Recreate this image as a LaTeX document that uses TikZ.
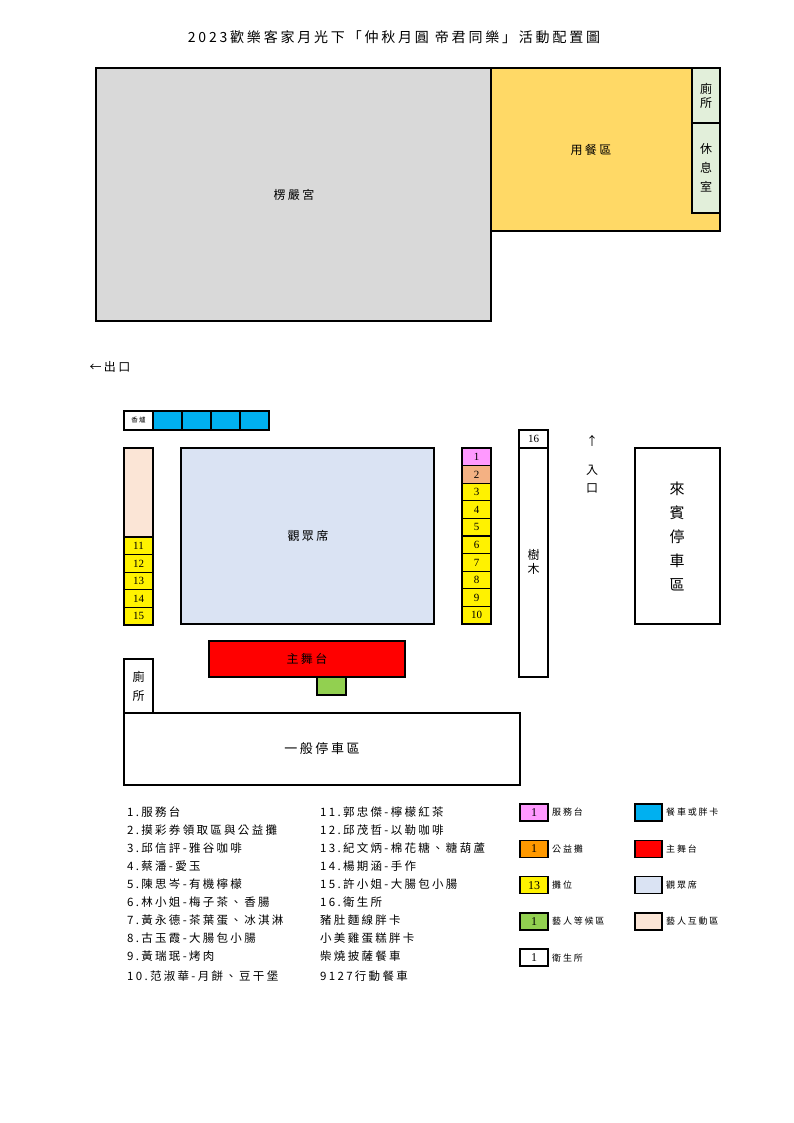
\documentclass[tikz,border=0pt]{standalone}
\usepackage{fontspec}
\setmainfont{Noto Sans CJK TC}[LetterSpace=20]
\newfontfamily\numf{Liberation Serif}
\begin{document}
\begin{tikzpicture}[x=1pt,y=-1pt,
  bx/.style={draw=black,line width=1.6pt},
  thin/.style={draw=black,line width=1.1pt},
  lab/.style={font=\fontsize{12}{14}\selectfont},
  sm/.style={font=\numf\fontsize{11}{12}\selectfont},
  lst/.style={anchor=west,font=\fontsize{11.5}{13}\selectfont,inner sep=0pt}]
\useasboundingbox[fill=white] (0,0) rectangle (794,1123);
\definecolor{grayA}{HTML}{D9D9D9}\definecolor{yelA}{HTML}{FFD966}
\definecolor{grnA}{HTML}{E2EFDA}\definecolor{blueA}{HTML}{00B0F0}
\definecolor{peachA}{HTML}{FBE5D6}\definecolor{audA}{HTML}{DAE3F3}
\definecolor{pinkA}{HTML}{FF99FF}\definecolor{salA}{HTML}{F4B183}
\definecolor{orgA}{HTML}{FF9900}\definecolor{grA}{HTML}{92D050}
\node[font=\fontsize{14}{16}\selectfont] (title) at (394,37) {2023歡樂客家月光下「仲秋月圓 帝君同樂」活動配置圖};
\draw[bx,fill=grayA] (96,68) rectangle (491,321);
\node[lab] (temple) at (294,195) {楞嚴宮};
\draw[bx,fill=yelA] (491,68) rectangle (720,231);
\node[lab] (dine) at (591,150) {用餐區};
\draw[thin,fill=grnA] (692,68) rectangle (720,123);
\node[lab,align=center] (wc1) at (706,96) {廁\\所};
\draw[thin,fill=grnA] (692,123) rectangle (720,213);
\node[lab,font=\fontsize{12}{19}\selectfont,align=center] (rest) at (706,168) {休\\息\\室};
\node[lab] (exit) at (110,367) {←出口};
\draw[thin,fill=white] (124,411) rectangle (153,430);
\node[font=\fontsize{6.5}{7}\selectfont] (burner) at (138.5,420.5) {香爐};
\foreach \i in {0,1,2,3}{\draw[thin,fill=blueA] (153+29*\i,411) rectangle (182+29*\i,430);}
\draw[thin,fill=peachA] (124,448) rectangle (153,537);
\foreach \n [count=\k from 0] in {11,12,13,14,15}{
  \draw[thin,fill=yellow] (124,537+17.6*\k) rectangle (153,554.6+17.6*\k);
  \node[sm] (s\n) at (138.5,545.8+17.6*\k) {\n};}
\draw[bx,fill=audA] (181,448) rectangle (434,624);
\node[lab] (aud) at (308,536) {觀眾席};
\foreach \n [count=\k from 0] in {1,...,10}{
  \ifnum\n=1 \def\c{pinkA}\else\ifnum\n=2 \def\c{salA}\else\def\c{yellow}\fi\fi
  \draw[thin,fill=\c] (462,448+17.6*\k) rectangle (491,465.6+17.6*\k);
  \node[sm] (s\n) at (476.5,456.8+17.6*\k) {\n};}
\draw[thin,fill=white] (519,430) rectangle (548,448);
\node[sm] (s16) at (533.5,439) {16};
\draw[bx,fill=white] (519,448) rectangle (548,677);
\node[lab,align=center] (tree) at (533.5,562) {樹\\木};
\node[lab] (up) at (592,441) {↑};
\node[lab,align=center] (ent) at (592,479) {入\\[4pt]口};
\draw[bx,fill=white] (635,448) rectangle (720,624);
\node[font=\fontsize{15}{24}\selectfont,align=center] (vip) at (677,536) {來\\賓\\停\\車\\區};
\draw[bx,fill=red] (209,641) rectangle (405,677);
\node[lab] (stage) at (307,659) {主舞台};
\draw[thin,fill=grA] (317,677) rectangle (346,695);
\draw[thin,fill=white] (124,659) rectangle (153,713);
\node[lab,font=\fontsize{12}{19}\selectfont,align=center] (wc2) at (138.5,686) {廁\\所};
\draw[thin,fill=white] (124,713) rectangle (520,785);
\node[lab,font=\fontsize{13}{15}\selectfont] (park) at (322,749) {一般停車區};
\foreach \t [count=\k from 0] in {1.服務台,2.摸彩券領取區與公益攤,3.邱信評-雅谷咖啡,4.蔡潘-愛玉,5.陳思岑-有機檸檬,6.林小姐-梅子茶、香腸,7.黃永德-茶葉蛋、冰淇淋,8.古玉霞-大腸包小腸,9.黃瑞珉-烤肉}
  {\node[lst] at (127,812+18*\k) {\t};}
\node[lst] at (127,976) {10.范淑華-月餅、豆干堡};
\foreach \t [count=\k from 0] in {11.郭忠傑-檸檬紅茶,12.邱茂哲-以勒咖啡,13.紀文炳-棉花糖、糖葫蘆,14.楊期涵-手作,15.許小姐-大腸包小腸,16.衛生所,豬肚麵線胖卡,小美雞蛋糕胖卡,柴燒披薩餐車}
  {\node[lst] at (320,812+18*\k) {\t};}
\node[lst] at (320,976) {9127行動餐車};
\foreach \c/\n/\t [count=\k from 0] in {pinkA/1/服務台,orgA/1/公益攤,yellow/13/攤位,grA/1/藝人等候區,white/1/衛生所}{
  \draw[bx,fill=\c] (520,804+36.3*\k) rectangle (548,821+36.3*\k);
  \node[sm,font=\numf\fontsize{12}{13}\selectfont] at (534,812.5+36.3*\k) {\n};
  \node[lst,font=\fontsize{9}{10}\selectfont] at (552,812.5+36.3*\k) {\t};}
\foreach \c/\t [count=\k from 0] in {blueA/餐車或胖卡,red/主舞台,audA/觀眾席,peachA/藝人互動區}{
  \draw[bx,fill=\c] (635,804+36.3*\k) rectangle (662,821+36.3*\k);
  \node[lst,font=\fontsize{9}{10}\selectfont] at (666,812.5+36.3*\k) {\t};}
\end{tikzpicture}
\end{document}
